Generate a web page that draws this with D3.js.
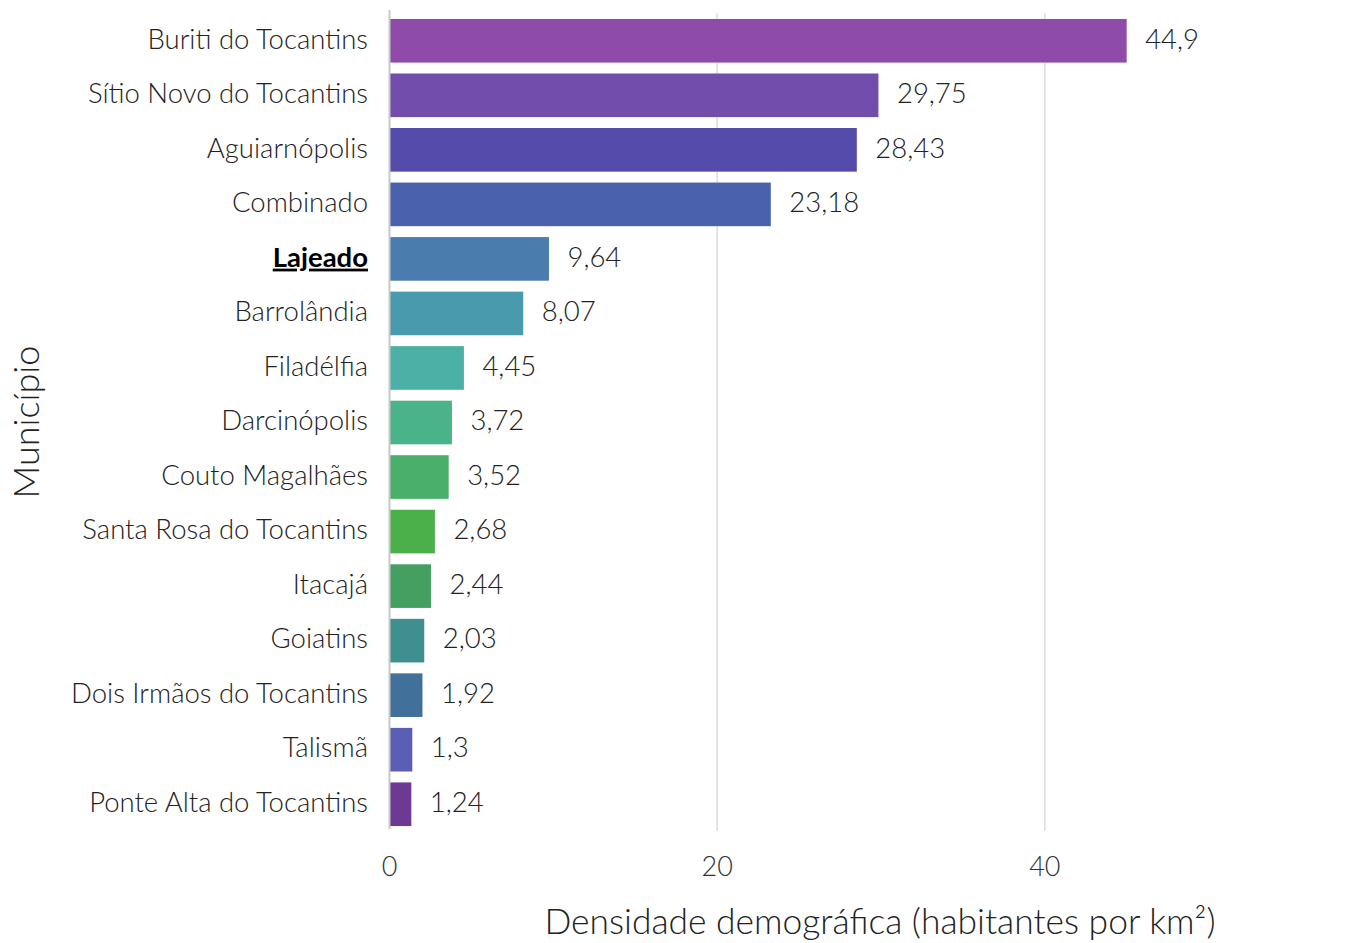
<!DOCTYPE html>
<html><head><meta charset="utf-8">
<script src="https://cdn.jsdelivr.net/npm/d3@7"></script>
<style>
body{margin:0;background:#fff;}
text{font-family:Lato,sans-serif;font-weight:300;}
</style></head>
<body><svg id="c" width="1364" height="943"></svg>
<script>
const municipios = ["Buriti do Tocantins","Sítio Novo do Tocantins","Aguiarnópolis","Combinado","Lajeado","Barrolândia","Filadélfia","Darcinópolis","Couto Magalhães","Santa Rosa do Tocantins","Itacajá","Goiatins","Dois Irmãos do Tocantins","Talismã","Ponte Alta do Tocantins"];
const densidade = [44.9,29.75,28.43,23.18,9.64,8.07,4.45,3.72,3.52,2.68,2.44,2.03,1.92,1.3,1.24];
const cores = ["#8E4BAA","#734DAB","#544BAB","#4A61AD","#4A7DAD","#4A9AAE","#4BB0A5","#4AB38A","#4AAF6A","#4BB04A","#459F60","#408F8F","#41709A","#5A5FB5","#6D3A93"];
const xTicks = [0,20,40];
const destaque = "Lajeado";

const svg = d3.select("#c");
const mLeft = 389.5, mRight = 1212, mTop = 13, mBottom = 831;
const x = d3.scaleLinear().domain([0,50.2]).range([mLeft,mRight]);
const y = d3.scaleBand().domain(municipios).range([mTop,mBottom]).paddingInner(0.2).paddingOuter(0.1);

// gridlines
svg.append("g").selectAll("line").data(xTicks.filter(d=>d>0)).join("line")
  .attr("x1",d=>x(d)).attr("x2",d=>x(d)).attr("y1",mTop).attr("y2",mBottom)
  .attr("stroke","#dcdcdc").attr("stroke-width",1.5);

// bars
svg.append("g").selectAll("rect").data(municipios).join("rect")
  .attr("x",x(0)).attr("y",d=>y(d)+0.5).attr("height",y.bandwidth())
  .attr("width",(d,i)=>x(densidade[i])-x(0)+1.5).attr("fill",(d,i)=>cores[i]);

// y axis line
svg.append("line").attr("x1",x(0)).attr("x2",x(0)).attr("y1",mTop-3).attr("y2",mBottom-2)
  .attr("stroke","#c8c8c8").attr("stroke-width",2);

// value labels
const fmt = v => String(v).replace(".",",");
svg.append("g").selectAll("text").data(municipios).join("text")
  .attr("x",(d,i)=>x(densidade[i])+20).attr("y",d=>y(d)+y.bandwidth()/2)
  .attr("dy","0.3em").attr("font-size",27.5).attr("fill","#222")
  .text((d,i)=>fmt(densidade[i]));

// category labels
svg.append("g").selectAll("text").data(municipios).join("text")
  .attr("x",368).attr("y",d=>y(d)+y.bandwidth()/2).attr("dy","0.3em")
  .attr("text-anchor","end").attr("font-size",27.5)
  .attr("fill",d=>d===destaque?"#000":"#222")
  .style("font-weight",d=>d===destaque?700:300)
  .style("text-decoration",d=>d===destaque?"underline":"none")
  .text(d=>d);

// x ticks
svg.append("g").selectAll("text").data(xTicks).join("text")
  .attr("x",d=>x(d)).attr("y",876).attr("text-anchor","middle")
  .attr("font-size",27).attr("fill","#333").text(d=>d);

// axis titles
svg.append("text").attr("x",880).attr("y",934).attr("text-anchor","middle")
  .attr("font-size",35.4).attr("fill","#222").text("Densidade demográfica (habitantes por km²)");
svg.append("text").attr("transform","translate(39,422) rotate(-90)").attr("text-anchor","middle")
  .attr("font-size",36).attr("fill","#222").text("Município");
</script></body></html>
